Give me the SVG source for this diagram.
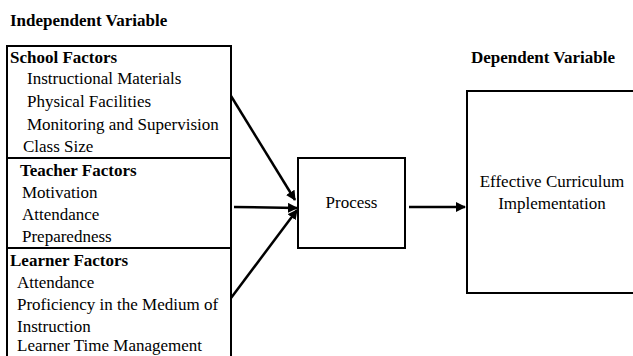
<svg xmlns="http://www.w3.org/2000/svg" width="633" height="356" viewBox="0 0 633 356">
<style>
text{font-family:"Liberation Serif","Times New Roman",serif;font-size:17px;fill:#000}
.b{font-weight:bold}
.box{fill:#fff;stroke:#000;stroke-width:2}
.c{stroke:#000;stroke-width:2.5;fill:none}
</style>
<defs>
<marker id="ah" viewBox="0 0 10 10" refX="9" refY="5" markerWidth="4" markerHeight="4" orient="auto" markerUnits="strokeWidth">
<path d="M0,0 L10,5 L0,10 z" fill="#000"/>
</marker>
</defs>
<rect width="633" height="356" fill="#fff"/>
<text class="b" x="10" y="26">Independent Variable</text>
<text class="b" x="471" y="63">Dependent Variable</text>
<g id="school">
<rect class="box" x="7" y="46" width="224" height="112"/>
<text class="b" x="10" y="63">School Factors</text>
<text x="27" y="84">Instructional Materials</text>
<text x="27" y="107">Physical Facilities</text>
<text x="27" y="130">Monitoring and Supervision</text>
<text x="23" y="152">Class Size</text>
</g>
<g id="teacher">
<rect class="box" x="7" y="158" width="224" height="90"/>
<text class="b" x="20" y="176">Teacher Factors</text>
<text x="22" y="198">Motivation</text>
<text x="22" y="220">Attendance</text>
<text x="22" y="242">Preparedness</text>
</g>
<g id="learner">
<rect class="box" x="7" y="248" width="224" height="120"/>
<text class="b" x="10" y="266">Learner Factors</text>
<text x="17" y="288">Attendance</text>
<text x="17" y="310">Proficiency in the Medium of</text>
<text x="17" y="332">Instruction</text>
<text x="17" y="351">Learner Time Management</text>
</g>
<g id="process">
<rect class="box" x="298" y="158" width="107" height="90"/>
<text x="351.5" y="208" text-anchor="middle">Process</text>
</g>
<g id="outcome">
<rect class="box" x="467" y="91" width="180" height="202"/>
<text x="552" y="187" text-anchor="middle">Effective Curriculum</text>
<text x="552" y="209" text-anchor="middle">Implementation</text>
</g>
<g id="connectors">
<line class="c" x1="231" y1="96" x2="295" y2="200" marker-end="url(#ah)"/>
<line class="c" x1="234" y1="207" x2="297" y2="208" marker-end="url(#ah)"/>
<line class="c" x1="231" y1="298" x2="297" y2="210" marker-end="url(#ah)"/>
<line class="c" x1="409" y1="207" x2="465" y2="207" marker-end="url(#ah)"/>
</g>
</svg>
